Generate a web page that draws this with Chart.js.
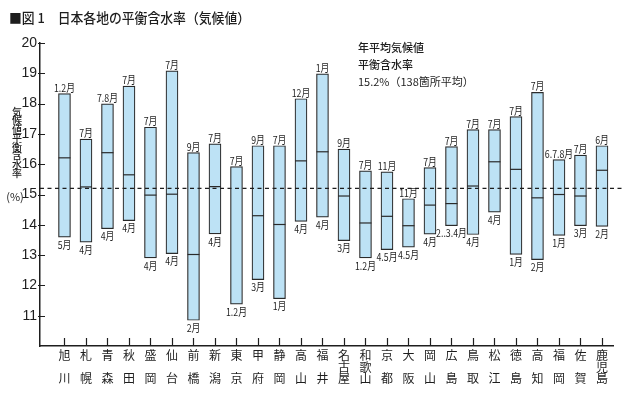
<!DOCTYPE html>
<html><head><meta charset="utf-8">
<script src="https://cdn.jsdelivr.net/npm/chart.js@4.4.1/dist/chart.umd.min.js"></script>
<style>html,body{margin:0;padding:0;background:#fff;}#wrap{width:640px;height:393px;}</style>
</head><body><div id="wrap"><canvas id="c" width="640" height="393"></canvas></div>
<script>
const cities = ['旭川','札幌','青森','秋田','盛岡','仙台','前橋','新潟','東京','甲府','静岡','高山','福井','名古屋','和歌山','京都','大阪','岡山','広島','鳥取','松江','徳島','高知','福岡','佐賀','鹿児島'];
const maxValues  = [18.33,16.83,17.99,18.58,17.22,19.08,16.38,16.67,15.92,16.61,16.61,18.16,18.98,16.50,15.78,15.75,14.86,15.89,16.58,17.14,17.14,17.57,18.37,16.15,16.30,16.61];
const meanValues = [16.21,15.25,16.38,15.65,14.98,15.01,13.02,15.26,null,14.30,14.01,16.11,16.41,14.95,14.06,14.28,13.97,14.65,14.70,15.28,16.08,15.83,14.89,15.00,14.95,15.80];
const minValues  = [13.59,13.43,13.87,14.14,12.91,13.05,10.85,13.70,11.38,12.19,11.56,14.11,14.25,13.48,12.91,13.18,13.26,13.69,13.97,13.68,14.42,13.02,12.85,13.65,13.97,13.95];
const maxMonths = ['1.2月','7月','7.8月','7月','7月','7月','9月','7月','7月','9月','7月','12月','1月','9月','7月','11月','11月','7月','7月','7月','7月','7月','7月','6.7.8月','7月','6月'];
const minMonths = ['5月','4月','4月','4月','4月','4月','2月','4月','1.2月','3月','1月','4月','4月','3月','1.2月','4.5月','4.5月','4月','2..3.4月','4月','4月','1月','2月','1月','3月','2月'];
const averageValue = 15.2;
const chartTitle = '■図 1　日本各地の平衡含水率（気候値）';
const noteLines = ['年平均気候値','平衡含水率','15.2%（138箇所平均）'];
const yTitleChars = ['気','候','値','平','衡','含','水','率'];
const yUnit = '(%)';

const JP = '"Noto Sans CJK JP", "Noto Sans", sans-serif';
const INK = '#1e1e1e';

function splitLabel(name){
  const ch = Array.from(name);
  return ch.length === 2 ? [ch[0], '', ch[1]] : ch;
}

const decor = {
  id: 'decor',
  afterDraw(chart){
    const ctx = chart.ctx;
    const xs = chart.scales.x, ys = chart.scales.y;
    const area = chart.chartArea;
    ctx.save();
    // title
    ctx.fillStyle = INK;
    ctx.textBaseline = 'middle';
    ctx.textAlign = 'left';
    ctx.save();
    ctx.translate(9, 18);
    ctx.scale(0.95, 1);
    ctx.font = '500 13.5px ' + JP;
    ctx.fillText(chartTitle, 0, 0);
    ctx.restore();
    // note
    ctx.font = '500 11px ' + JP;
    ctx.fillText(noteLines[0], 358, 48);
    ctx.fillText(noteLines[1], 358, 65);
    ctx.font = '11px ' + JP;
    ctx.fillText(noteLines[2], 358, 82);
    // y title
    ctx.font = '500 10px ' + JP;
    ctx.textAlign = 'center';
    yTitleChars.forEach((c, i) => ctx.fillText(c, 17, 112 + i * 8.7));
    ctx.font = '11px ' + JP;
    ctx.fillText(yUnit, 15, 197);
    // inside ticks
    ctx.strokeStyle = INK;
    ctx.lineWidth = 1.2;
    ctx.beginPath();
    for (let v = 11; v <= 20; v++) {
      const y = Math.round(ys.getPixelForValue(v)) + 0.5;
      ctx.moveTo(area.left - 2, y); ctx.lineTo(area.left + 5, y);
    }
    cities.forEach((c, i) => {
      const x = Math.round(xs.getPixelForValue(i)) + 0.5;
      ctx.moveTo(x, area.bottom); ctx.lineTo(x, area.bottom - 8);
    });
    ctx.stroke();
    // average dashed line
    const ay = ys.getPixelForValue(averageValue);
    ctx.setLineDash([4, 3.5]);
    ctx.lineWidth = 1.3;
    ctx.beginPath();
    ctx.moveTo(area.left, ay); ctx.lineTo(625, ay);
    ctx.stroke();
    ctx.setLineDash([]);
    // month labels
    const meta = chart.getDatasetMeta(0);
    ctx.font = '11px ' + JP;
    ctx.fillStyle = INK;
    meta.data.forEach((bar, i) => {
      const top = Math.min(bar.y, bar.base), bot = Math.max(bar.y, bar.base);
      ctx.save();
      ctx.translate(bar.x, top - 2);
      ctx.scale(0.8, 1);
      ctx.textAlign = 'center'; ctx.textBaseline = 'alphabetic';
      ctx.fillText(maxMonths[i], 0, 0);
      ctx.restore();
      ctx.save();
      ctx.translate(bar.x, bot + 2);
      ctx.scale(0.8, 1);
      ctx.textAlign = 'center'; ctx.textBaseline = 'top';
      ctx.fillText(minMonths[i], 0, 0);
      ctx.restore();
    });
    ctx.restore();
  }
};

new Chart(document.getElementById('c'), {
  data: {
    datasets: [
      {
        type: 'bar',
        data: cities.map((c, i) => ({x: i, y: [minValues[i], maxValues[i]]})),
        backgroundColor: '#bde2f5',
        borderColor: '#2a2a2a',
        borderWidth: 1.2,
        borderSkipped: false,
        barThickness: 12,
        grouped: false,
        order: 2
      },
      {
        type: 'scatter',
        data: cities.map((c, i) => ({x: i, y: meanValues[i]})).filter(p => p.y !== null),
        pointStyle: 'line',
        radius: 6,
        hoverRadius: 6,
        borderColor: '#2a2a2a',
        borderWidth: 1.2,
        order: 1
      }
    ]
  },
  options: {
    responsive: false,
    animation: false,
    devicePixelRatio: 1,
    layout: {padding: {left: 0, top: 43, right: 27, bottom: 0}},
    plugins: {legend: {display: false}, tooltip: {enabled: false}},
    scales: {
      x: {
        type: 'linear',
        min: -0.626, max: 25,
        grid: {display: false, drawTicks: false},
        border: {display: true, color: INK, width: 1.5},
        ticks: {
          stepSize: 1, autoSkip: false, includeBounds: false, maxRotation: 0,
          padding: 4, color: INK,
          font: {family: JP, size: 12, lineHeight: 0.96},
          callback: v => (Number.isInteger(v) && v >= 0 && v < cities.length) ? splitLabel(cities[v]) : ''
        },
        afterFit: s => { s.height = 47; }
      },
      y: {
        type: 'linear',
        min: 10, max: 20,
        grid: {display: false, drawTicks: false},
        border: {display: true, color: INK, width: 1.5},
        ticks: {
          stepSize: 1, padding: 3, color: INK,
          font: {family: '"Liberation Sans", Arial, sans-serif', size: 14},
          callback: v => v === 10 ? '' : String(v)
        },
        afterFit: s => { s.width = 40; }
      }
    }
  },
  plugins: [decor]
});
</script></body></html>
